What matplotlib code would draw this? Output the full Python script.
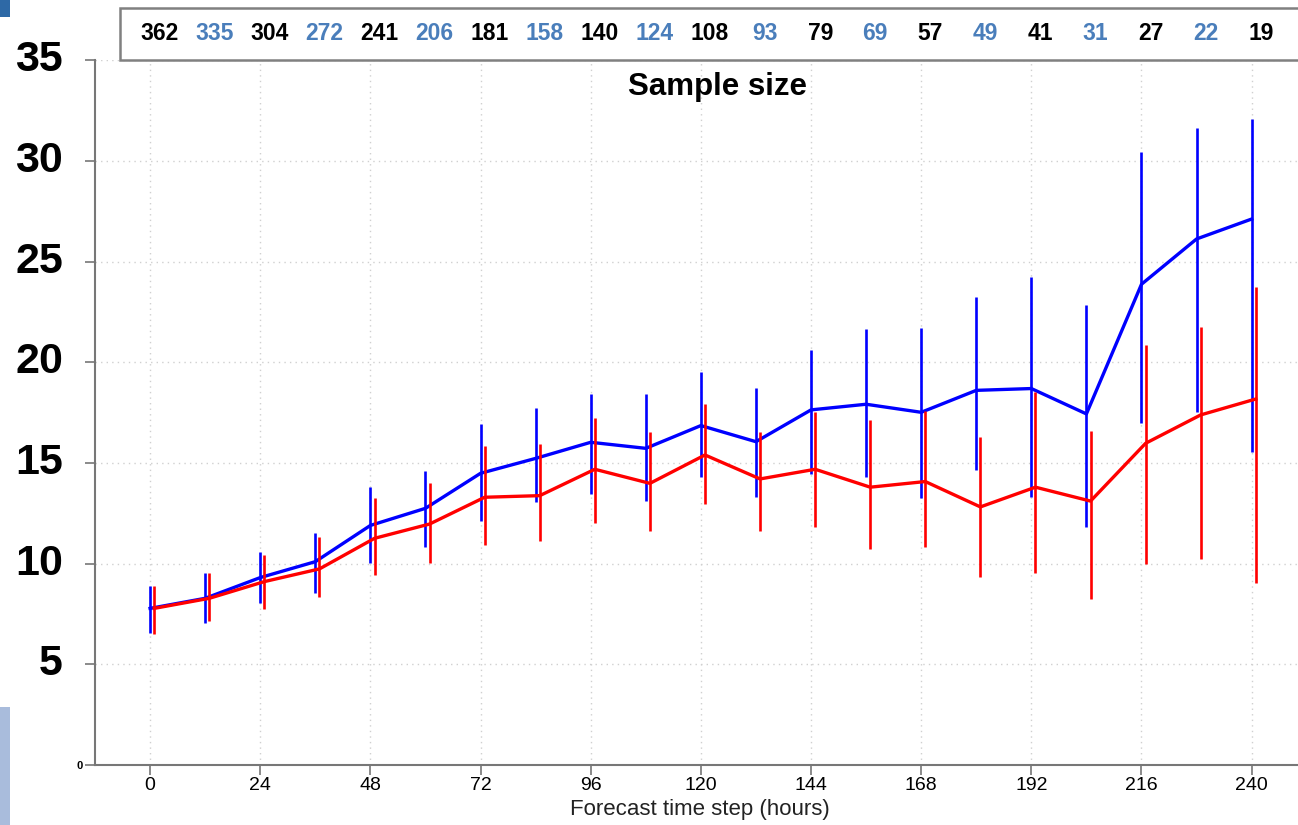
import numpy as np
import matplotlib.pyplot as plt
from matplotlib.patches import Rectangle
import matplotlib.transforms as mtransforms

# forecast steps (hours)
hours = np.arange(0, 241, 12)

# blue experiment: mean and spread
blue_mean = [7.78, 8.28, 9.31, 10.1, 11.9, 12.75, 14.49, 15.23, 16.03, 15.73, 16.86,
             16.06, 17.64, 17.92, 17.52, 18.61, 18.7, 17.44, 23.88, 26.13, 27.12]
blue_hi = [8.91, 9.52, 10.6, 11.51, 13.83, 14.62, 16.94, 17.73, 18.43, 18.43, 19.5,
           18.71, 20.62, 21.64, 21.73, 23.23, 24.24, 22.84, 30.45, 31.65, 32.08]
blue_lo = [6.54, 7.07, 8.06, 8.53, 10.05, 10.85, 12.14, 13.05, 13.46, 13.13, 14.32,
           13.33, 14.44, 14.32, 13.28, 14.67, 13.33, 11.84, 16.97, 17.55, 15.57]

# red experiment: mean and spread
red_mean = [7.78, 8.28, 9.11, 9.74, 11.26, 11.97, 13.3, 13.38, 14.69, 13.99, 15.4,
            14.21, 14.69, 13.8, 14.08, 12.82, 13.8, 13.11, 15.98, 17.39, 18.18]
red_hi = [8.91, 9.52, 10.43, 11.34, 13.25, 14.03, 15.85, 15.93, 17.22, 16.53, 17.93,
          16.53, 17.55, 17.14, 17.59, 16.31, 18.51, 16.61, 20.86, 21.74, 23.73]
red_lo = [6.52, 7.15, 7.73, 8.33, 9.44, 10.05, 10.93, 11.13, 12.04, 11.64, 12.95,
          11.64, 11.84, 10.73, 10.85, 9.32, 9.55, 8.23, 9.97, 10.23, 9.03]

sample_size = [362, 335, 304, 272, 241, 206, 181, 158, 140, 124, 108,
               93, 79, 69, 57, 49, 41, 31, 27, 22, 19]

x_ticks = np.arange(0, 241, 24)
y_ticks = np.arange(0, 36, 5)

plt.rcParams['font.family'] = ['Liberation Sans', 'DejaVu Sans']

fig = plt.figure(figsize=(12.98, 8.25), dpi=100)
# axes: left edge at px 95, x-axis at px 765, top at px 60, runs off the right side
ax = fig.add_axes([95 / 1298, 1 - 765 / 825, 1 - 95 / 1298, 705 / 825])

red_x = hours + 0.9

ax.vlines(hours, blue_lo, blue_hi, color='#0000ff', lw=1.9, zorder=3)
ax.plot(hours, blue_mean, color='#0000ff', lw=2.4, zorder=4)
ax.vlines(red_x, red_lo, red_hi, color='#ff0000', lw=1.9, zorder=5)
ax.plot(red_x, red_mean, color='#ff0000', lw=2.4, zorder=6)

ax.set_xlim(-12, 250.1)
ax.set_ylim(0, 35.02)

ax.set_xticks(x_ticks)
ax.set_xticklabels([str(t) for t in x_ticks], fontsize=14)
ax.set_yticks(y_ticks)
ax.set_yticklabels(['0'] + [''] * (len(y_ticks) - 1), fontsize=8, fontweight='bold')
ax.tick_params(axis='x', direction='out', length=7, width=1.2, color='#777777', pad=2)
ax.tick_params(axis='y', direction='out', length=7, width=1.2, color='#777777', pad=2)

ax.grid(True, linestyle=(0, (1, 3)), color='#d0d0d0', lw=1)
for s in ['top', 'right']:
    ax.spines[s].set_visible(False)
for s in ['left', 'bottom']:
    ax.spines[s].set_color('#777777')
    ax.spines[s].set_linewidth(1.5)

# big bold y labels
ytrans = mtransforms.blended_transform_factory(fig.transFigure, ax.transData)
for v in y_ticks[1:]:
    fig.text(63 / 1298, v, str(v), transform=ytrans, ha='right', va='center',
             fontsize=31, fontweight='bold')

fig.text(700 / 1298, 1 - 809 / 825, 'Forecast time step (hours)', ha='center',
         va='center', fontsize=16, color='#222222')

# sample size box
fig.patches.append(Rectangle((120 / 1298, 1 - 60 / 825), 1.0, 52 / 825,
                             transform=fig.transFigure, facecolor='white',
                             edgecolor='#808080', lw=1.8, zorder=10))
ntrans = mtransforms.blended_transform_factory(ax.transData, fig.transFigure)
for i, (h, n) in enumerate(zip(hours, sample_size)):
    c = 'black' if i % 2 == 0 else '#4a7ebb'
    fig.text(h + 2, 1 - 34 / 825, str(n), transform=ntrans, ha='center', va='center',
             fontsize=16.5, fontweight='bold', color=c, zorder=11)
fig.text(717 / 1298, 1 - 87 / 825, 'Sample size', ha='center', va='center',
         fontsize=22.5, fontweight='bold')

# slide decorations
fig.patches.append(Rectangle((0, 1 - 17 / 825), 10 / 1298, 17 / 825,
                             transform=fig.transFigure, facecolor='#2e69a6', lw=0))
fig.patches.append(Rectangle((0, 0), 10 / 1298, 118 / 825,
                             transform=fig.transFigure, facecolor='#a9bcdc', lw=0))

plt.savefig('out.png', dpi=100)
